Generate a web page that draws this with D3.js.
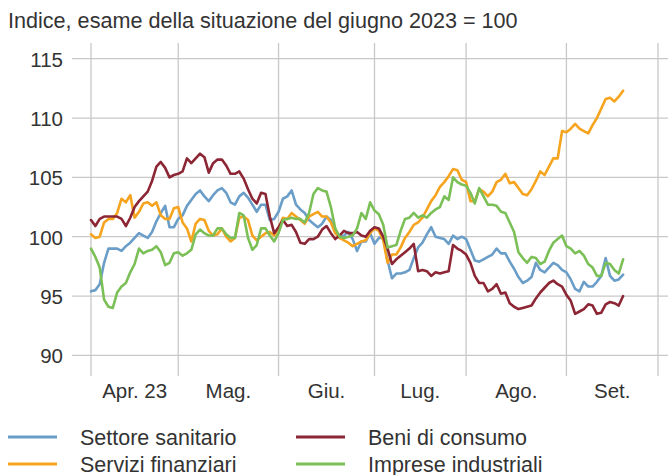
<!DOCTYPE html>
<html>
<head>
<meta charset="utf-8">
<script src="https://cdn.jsdelivr.net/npm/d3@7"></script>
<style>
  html, body { margin: 0; padding: 0; background: #fff; }
  svg { display: block; }
  text { font-family: "Liberation Sans", Arial, sans-serif; fill: #333; }
</style>
</head>
<body>
<svg id="chart" width="668" height="475"></svg>
<script>
// ---- Data (business-day index 0 = 3 Apr 2023) ----
const monthLabels = ["Apr. 23", "Mag.", "Giu.", "Lug.", "Ago.", "Set."];
const monthStarts = [0, 20, 43, 65, 86, 109, 130]; // business-day index of each month start
const yTicks = [90, 95, 100, 105, 110, 115];
const seriesNames = ["Settore sanitario", "Servizi finanziari", "Beni di consumo", "Imprese industriali"];

const sanitario = [
  95.4, 95.5, 96.0, 97.8, 99.0, 99.0, 99.0, 98.8, 99.2, 99.5,
  99.9, 100.3, 100.1, 99.9, 100.4, 101.3, 102.0, 102.6, 100.8, 100.8,
  101.5, 101.8, 102.6, 103.1, 103.6, 103.9, 103.4, 103.0, 103.5, 103.9,
  104.1, 103.7, 102.9, 102.7, 103.4, 103.7, 103.3, 102.7, 102.1, 102.7,
  102.7, 101.4, 101.5, 102.1, 103.2, 103.4, 103.9, 102.7, 102.3, 102.0,
  101.4, 101.1, 100.8, 101.1, 101.7, 101.4, 100.4, 99.9, 100.1, 100.4,
  99.8, 98.8, 99.6, 99.6, 100.3, 99.4, 99.9, 99.9, 98.0, 96.5,
  96.9, 96.9, 97.0, 97.2, 98.2, 99.1, 99.5, 100.2, 100.8, 100.0,
  99.9, 99.8, 99.4, 100.1, 99.8, 100.0, 99.8, 98.9, 98.0, 97.9,
  98.1, 98.3, 98.5, 99.0, 98.6, 98.6, 97.9, 97.3, 96.6, 96.1,
  96.3, 96.6, 97.8, 97.2, 97.0, 97.4, 97.8, 97.6, 97.2, 97.0,
  96.4, 95.6, 95.4, 96.2, 95.8, 95.8, 96.2, 96.7, 98.2, 96.7,
  96.3, 96.4, 96.8
];
const finanziari = [
  100.2, 99.9, 100.0, 101.2, 101.5, 101.5, 102.0, 103.2, 102.9, 103.5,
  101.6, 102.1, 102.8, 102.9, 102.6, 102.9, 101.8, 101.5, 101.5, 102.4,
  102.5, 101.2, 100.7, 99.6, 101.1, 101.5, 101.4, 100.5, 100.1, 100.2,
  100.7, 100.0, 99.6, 99.9, 101.6, 101.7, 101.4, 100.1, 99.7, 100.0,
  100.3, 100.4, 100.1, 100.7, 101.6, 101.5, 102.0, 101.7, 101.4, 101.1,
  101.7, 101.9, 102.1, 101.7, 101.7, 101.2, 100.3, 99.9, 99.7, 99.5,
  99.2, 99.4, 99.6, 99.7, 100.3, 100.7, 100.5, 99.7, 97.8, 98.5,
  98.5, 99.1, 99.9, 100.4, 101.0, 101.2, 101.6, 102.3, 103.0, 103.5,
  104.2, 104.6, 105.1, 105.7, 105.6, 104.8, 104.6, 103.0, 103.0, 104.0,
  103.8, 103.4, 103.8, 104.6, 104.8, 105.3, 104.5, 104.6, 104.1, 103.6,
  103.5, 104.0, 104.7, 105.5, 105.2, 105.9, 106.6, 106.6, 108.9, 108.8,
  109.1, 109.5, 109.1, 108.9, 108.7, 109.4, 110.0, 110.8, 111.6, 111.7,
  111.4, 111.8, 112.3
];
const beni = [
  101.4, 100.9, 101.5, 101.7, 101.7, 101.7, 101.7, 101.5, 100.9, 101.6,
  102.5, 103.0, 103.4, 103.8, 104.7, 105.9, 106.3, 105.8, 105.0, 105.2,
  105.3, 105.5, 106.6, 106.2, 106.6, 107.0, 106.7, 105.4, 106.2, 106.5,
  106.5, 106.0, 105.3, 105.3, 105.5, 104.9, 104.0, 103.2, 102.8, 103.7,
  103.6, 101.7, 100.3, 100.8, 101.4, 100.9, 101.0, 100.4, 99.5, 99.4,
  99.8, 99.8, 100.0, 100.6, 100.9, 100.3, 99.8, 100.1, 100.5, 100.3,
  100.3, 100.4, 100.1, 100.0, 100.5, 100.8, 100.7, 100.0, 99.0, 97.7,
  98.1, 98.4, 98.7, 99.0, 99.4, 97.1, 97.2, 97.1, 96.7, 97.0,
  96.9, 97.0, 97.1, 99.3, 99.0, 98.8, 98.5, 97.8, 96.7, 96.1,
  96.1, 95.4, 95.6, 96.0, 95.2, 95.3, 94.4, 94.1, 93.9, 94.0,
  94.1, 94.2, 94.8, 95.3, 95.7, 96.1, 96.3, 96.0, 95.8, 95.1,
  94.6, 93.5, 93.7, 93.9, 94.3, 94.2, 93.5, 93.6, 94.3, 94.5,
  94.4, 94.2, 95.0
];
const industriali = [
  99.0, 98.3, 97.4, 94.7, 94.1, 94.0, 95.3, 95.8, 96.1, 97.0,
  97.7, 99.0, 98.6, 98.8, 98.9, 99.2, 98.7, 97.6, 97.8, 98.6,
  98.7, 98.4, 98.6, 98.9, 100.2, 100.6, 100.3, 100.1, 100.1, 100.7,
  100.7, 100.2, 99.9, 99.9, 102.0, 101.8, 99.9, 98.9, 99.3, 100.7,
  100.7, 100.1, 99.6, 100.3, 101.4, 101.5, 101.6, 101.5, 101.5, 101.2,
  102.0, 103.6, 104.1, 103.9, 103.8, 102.5, 100.7, 100.0, 99.9, 100.0,
  100.1, 100.7, 102.0, 101.5, 102.9, 102.2, 101.9, 101.0, 99.1, 99.2,
  99.3, 100.5, 101.5, 101.6, 102.0, 101.6, 101.8, 101.6, 102.0, 102.3,
  102.5, 103.4, 103.1, 105.0, 104.6, 104.4, 104.3, 103.7, 102.8, 104.1,
  103.4, 102.7, 102.7, 102.6, 102.1, 102.0, 101.2, 100.4, 98.7, 98.2,
  97.8, 98.3, 98.2, 97.7, 97.9, 98.8, 99.5, 99.8, 100.1, 99.2,
  99.0, 98.6, 98.8, 98.4, 97.7, 97.4, 96.7, 96.7, 97.8, 97.7,
  97.2, 96.9, 98.1
];

const colors = ["#6a9dc8", "#f6a31e", "#8c2634", "#7bbf57"];

// ---- Layout ----
const svg = d3.select("#chart");
const x = d3.scaleLinear().domain([0, 130]).range([91, 658]);
const y = d3.scaleLinear().domain([90, 115]).range([355.4, 58.7]);
const gridColor = "#c8c8c8";

// Title
svg.append("text")
  .attr("x", 8).attr("y", 28)
  .style("font-size", "21.6px")
  .text("Indice, esame della situazione del giugno 2023 = 100");

// Horizontal gridlines + y labels
const yAxis = d3.axisLeft(y).tickValues(yTicks).tickSize(0).tickPadding(0);
svg.append("g").selectAll("line.h").data(yTicks).join("line")
  .attr("x1", 72).attr("x2", 668)
  .attr("y1", d => y(d)).attr("y2", d => y(d))
  .attr("stroke", gridColor).attr("stroke-width", 1.3);
const gy = svg.append("g").attr("transform", "translate(63,0)").call(yAxis);
gy.select(".domain").remove();
gy.selectAll("text").style("font-size", "20.5px").attr("fill", "#333")
  .attr("font-family", "Liberation Sans, Arial, sans-serif").attr("dy", "0.36em");

// Vertical gridlines at month boundaries
svg.append("g").selectAll("line.v").data(monthStarts).join("line")
  .attr("x1", d => x(d)).attr("x2", d => x(d))
  .attr("y1", 43).attr("y2", 376)
  .attr("stroke", gridColor).attr("stroke-width", 1.3);

// Month labels centred between boundaries
svg.append("g").selectAll("text").data(monthLabels).join("text")
  .attr("x", (d, i) => (x(monthStarts[i]) + x(monthStarts[i + 1])) / 2)
  .attr("y", 398)
  .attr("text-anchor", "middle")
  .style("font-size", "20.5px")
  .text(d => d);

// Lines
const allSeries = [sanitario, finanziari, beni, industriali];
const line = d3.line().x((d, i) => x(i)).y(d => y(d));
const drawOrder = [0, 1, 2, 3];
svg.append("g").selectAll("path").data(drawOrder).join("path")
  .attr("d", k => line(allSeries[k]))
  .attr("fill", "none")
  .attr("stroke", k => colors[k])
  .attr("stroke-width", 2.6)
  .attr("stroke-linejoin", "round")
  .attr("stroke-linecap", "round");

// Legend
const legendPos = [
  { x: 8, y: 437 },
  { x: 8, y: 464 },
  { x: 296, y: 437 },
  { x: 296, y: 464 }
];
const lg = svg.append("g").selectAll("g").data(seriesNames).join("g")
  .attr("transform", (d, i) => `translate(${legendPos[i].x},${legendPos[i].y})`);
lg.append("line").attr("x1", 0).attr("x2", 49).attr("y1", 0).attr("y2", 0)
  .attr("stroke", (d, i) => colors[i]).attr("stroke-width", 3);
lg.append("text").attr("x", 72).attr("y", 0).attr("dy", "0.36em")
  .style("font-size", "21.5px")
  .text(d => d);
</script>
</body>
</html>
